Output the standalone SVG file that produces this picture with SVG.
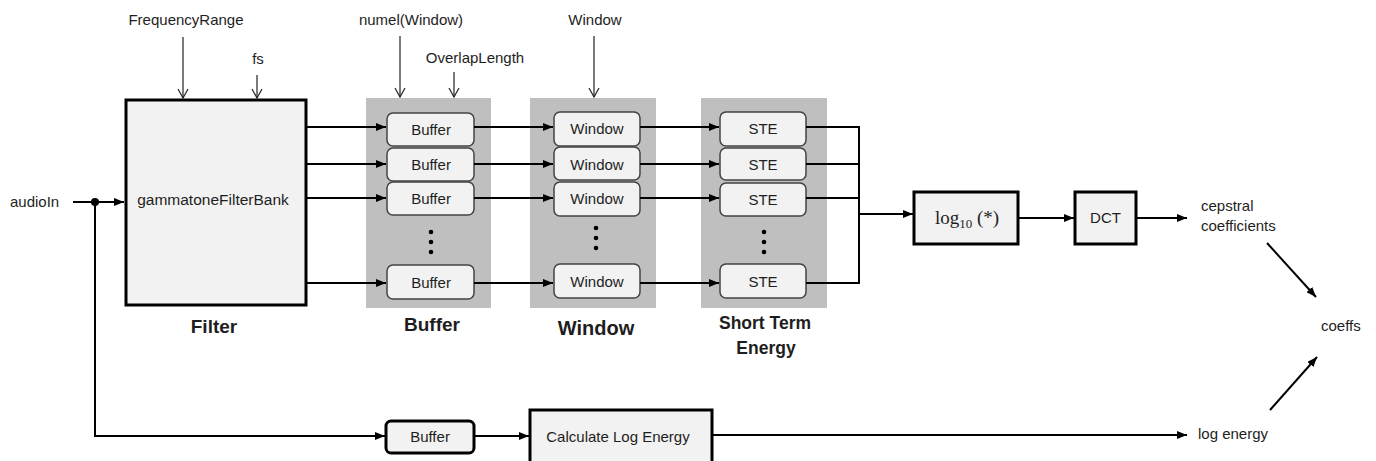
<svg xmlns="http://www.w3.org/2000/svg" width="1376" height="461" viewBox="0 0 1376 461">
<defs>
<style>
text{font-family:"Liberation Sans",Arial,sans-serif;fill:#1e1e1e;}
.t{font-size:15px;}
.c{text-anchor:middle;}
.b{font-weight:bold;}
.thick{fill:#f2f2f2;stroke:#000;stroke-width:3;}
.small{fill:#f2f2f2;stroke:#444;stroke-width:1.5;}
.grp{fill:#bfbfbf;stroke:none;}
.w{fill:none;stroke:#000;stroke-width:2;}
.thin{fill:none;stroke:#222;stroke-width:1.2;}
.dot{fill:#000;}
</style>
<marker id="ah" markerUnits="userSpaceOnUse" markerWidth="10" markerHeight="8" refX="10" refY="4" orient="auto">
<path d="M0,0 L10,4 L0,8 z" fill="#000"/>
</marker>
<marker id="oa" markerUnits="userSpaceOnUse" markerWidth="12" markerHeight="12" refX="10" refY="6" orient="auto">
<path d="M1,1 L10,6 L1,11" fill="none" stroke="#222" stroke-width="1.2"/>
</marker>
</defs>

<g id="group-bg">
<rect class="grp" x="366" y="98" width="125" height="210"/>
<rect class="grp" x="530" y="98" width="126" height="210"/>
<rect class="grp" x="701" y="98" width="126" height="210"/>
</g>

<g id="filter">
<rect class="thick" x="126" y="100" width="180" height="205"/>
<text class="t c" x="213" y="205" style="font-size:15.5px">gammatoneFilterBank</text>
<text class="b c" x="214" y="333" style="font-size:19px">Filter</text>
</g>

<g id="buffer-stage">
<rect class="small" x="387" y="113" width="87" height="33" rx="6"/>
<text class="t c" x="431" y="135">Buffer</text>
<rect class="small" x="387" y="148" width="87" height="33" rx="6"/>
<text class="t c" x="431" y="170">Buffer</text>
<rect class="small" x="387" y="182" width="87" height="33" rx="6"/>
<text class="t c" x="431" y="204">Buffer</text>
<circle class="dot" cx="431" cy="232" r="2.3"/>
<circle class="dot" cx="431" cy="242" r="2.3"/>
<circle class="dot" cx="431" cy="252" r="2.3"/>
<rect class="small" x="387" y="265" width="87" height="34" rx="6"/>
<text class="t c" x="431" y="288">Buffer</text>
<text class="b c" x="432" y="331" style="font-size:19px">Buffer</text>
</g>

<g id="window-stage">
<rect class="small" x="554" y="112" width="86" height="34" rx="6"/>
<text class="t c" x="597" y="134">Window</text>
<rect class="small" x="554" y="147" width="86" height="33" rx="6"/>
<text class="t c" x="597" y="170">Window</text>
<rect class="small" x="554" y="182" width="86" height="34" rx="6"/>
<text class="t c" x="597" y="204">Window</text>
<circle class="dot" cx="596" cy="228" r="2.3"/>
<circle class="dot" cx="596" cy="238" r="2.3"/>
<circle class="dot" cx="596" cy="248" r="2.3"/>
<rect class="small" x="554" y="264" width="86" height="34" rx="6"/>
<text class="t c" x="597" y="287">Window</text>
<text class="b c" x="596" y="335" style="font-size:20px">Window</text>
</g>

<g id="ste-stage">
<rect class="small" x="720" y="112" width="86" height="34" rx="6"/>
<text class="t c" x="763" y="134">STE</text>
<rect class="small" x="720" y="148" width="86" height="32" rx="6"/>
<text class="t c" x="763" y="170">STE</text>
<rect class="small" x="720" y="183" width="86" height="33" rx="6"/>
<text class="t c" x="763" y="205">STE</text>
<circle class="dot" cx="764" cy="232" r="2.3"/>
<circle class="dot" cx="764" cy="242" r="2.3"/>
<circle class="dot" cx="764" cy="252" r="2.3"/>
<rect class="small" x="720" y="264" width="86" height="34" rx="6"/>
<text class="t c" x="763" y="287">STE</text>
<text class="b c" x="765" y="329" style="font-size:17.5px">Short Term</text>
<text class="b c" x="766" y="354" style="font-size:17.5px">Energy</text>
</g>

<g id="log10">
<rect class="thick" x="914" y="192" width="104" height="52"/>
<text x="967" y="224" style="font-family:'Liberation Serif','DejaVu Serif',serif;font-size:19px;text-anchor:middle">log<tspan dy="4" style="font-size:13px">10</tspan><tspan dy="-4"> (*)</tspan></text>
</g>

<g id="dct">
<rect class="thick" x="1075" y="192" width="61" height="52"/>
<text class="t c" x="1105.5" y="223">DCT</text>
</g>

<g id="buffer-energy">
<rect class="thick" x="386" y="421" width="88" height="32" rx="5"/>
<text class="t c" x="430" y="442">Buffer</text>
</g>

<g id="calc-log-energy">
<rect class="thick" x="530" y="410" width="182" height="60"/>
<text class="t c" x="618" y="442">Calculate Log Energy</text>
</g>

<g id="labels">
<text class="t" x="10" y="207">audioIn</text>
<text class="t c" x="186" y="25">FrequencyRange</text>
<text class="t c" x="258" y="64">fs</text>
<text class="t c" x="411" y="25">numel(Window)</text>
<text class="t c" x="475" y="63">OverlapLength</text>
<text class="t c" x="595" y="25">Window</text>
<text class="t" x="1201" y="211">cepstral</text>
<text class="t" x="1201" y="231">coefficients</text>
<text class="t" x="1321" y="331">coeffs</text>
<text class="t" x="1198" y="439">log energy</text>
</g>

<g id="connectors">
<line class="thin" x1="183" y1="37" x2="183" y2="98" marker-end="url(#oa)"/>
<line class="thin" x1="257" y1="75" x2="257" y2="98" marker-end="url(#oa)"/>
<line class="thin" x1="400" y1="36" x2="400" y2="97" marker-end="url(#oa)"/>
<line class="thin" x1="454" y1="72" x2="454" y2="97" marker-end="url(#oa)"/>
<line class="thin" x1="594" y1="36" x2="594" y2="97" marker-end="url(#oa)"/>

<line class="w" x1="73" y1="202" x2="124" y2="202" marker-end="url(#ah)"/>
<circle class="dot" cx="95" cy="202" r="4"/>

<line class="w" x1="306" y1="127" x2="386" y2="127" marker-end="url(#ah)"/>
<line class="w" x1="306" y1="164" x2="386" y2="164" marker-end="url(#ah)"/>
<line class="w" x1="306" y1="198" x2="386" y2="198" marker-end="url(#ah)"/>
<line class="w" x1="306" y1="283" x2="386" y2="283" marker-end="url(#ah)"/>

<line class="w" x1="474" y1="127" x2="553" y2="127" marker-end="url(#ah)"/>
<line class="w" x1="474" y1="164" x2="553" y2="164" marker-end="url(#ah)"/>
<line class="w" x1="474" y1="198" x2="553" y2="198" marker-end="url(#ah)"/>
<line class="w" x1="474" y1="283" x2="553" y2="283" marker-end="url(#ah)"/>

<line class="w" x1="640" y1="127" x2="719" y2="127" marker-end="url(#ah)"/>
<line class="w" x1="640" y1="164" x2="719" y2="164" marker-end="url(#ah)"/>
<line class="w" x1="640" y1="198" x2="719" y2="198" marker-end="url(#ah)"/>
<line class="w" x1="640" y1="283" x2="719" y2="283" marker-end="url(#ah)"/>

<path class="w" d="M806,127 H859 M806,164 H859 M806,198 H859 M806,283 H859 M859,126 V284"/>
<line class="w" x1="859" y1="214" x2="913" y2="214" marker-end="url(#ah)"/>
<line class="w" x1="1018" y1="218" x2="1074" y2="218" marker-end="url(#ah)"/>
<line class="w" x1="1136" y1="218" x2="1187" y2="218" marker-end="url(#ah)"/>

<line class="w" x1="1267" y1="243" x2="1316" y2="297" marker-end="url(#ah)"/>
<line class="w" x1="1270" y1="410" x2="1317" y2="357" marker-end="url(#ah)"/>

<path class="w" d="M95,202 V436 H385" marker-end="url(#ah)"/>
<line class="w" x1="474" y1="436" x2="529" y2="436" marker-end="url(#ah)"/>
<line class="w" x1="712" y1="435" x2="1187" y2="435" marker-end="url(#ah)"/>
</g>
</svg>
